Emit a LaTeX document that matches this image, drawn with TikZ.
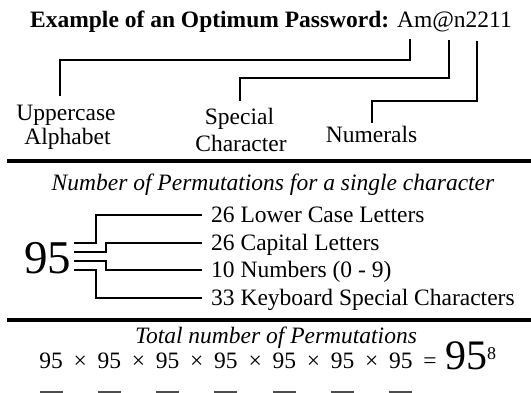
\documentclass[tikz,border=0pt]{standalone}
\usepackage{fontspec}
\setmainfont{Liberation Serif}
\begin{document}
\begin{tikzpicture}[x=1pt,y=-1pt,
  txt/.style={inner sep=0pt, font=\fontsize{23.5}{24}\selectfont},
  blab/.style={inner xsep=10pt, inner ysep=0pt, anchor=west, text height=15.5pt, text depth=0pt, font=\fontsize{23.5}{24}\selectfont},
  con/.style={line width=2.8pt, line join=miter, line cap=rect},
  sep/.style={line width=3.4pt},
  ubar/.style={line width=4pt, black!70},
]
\useasboundingbox (0,0) rectangle (531,392);
% title
\node[txt, anchor=base] (title) at (271,27) {\textbf{Example of an Optimum Password:} Am@n2211};
\coordinate (pA) at (410,40);
\coordinate (pB) at (449,41);
\coordinate (pC) at (477,42);
% labels
\node[txt, anchor=base] (up1) at (66,120) {Uppercase};
\node[txt, anchor=base] (up2) at (67.5,144) {Alphabet};
\node[txt, anchor=base] (sp1) at (239.5,124) {Special};
\node[txt, anchor=base] (sp2) at (241,151) {Character};
\node[txt, anchor=base] (num) at (371.5,142) {Numerals};
\coordinate (eA) at (60,95);
\coordinate (eB) at (240,100);
\coordinate (eC) at (372,122);
\draw[con] (pA) -- (pA |- 0,60) -| (eA);
\draw[con] (pB) -- (pB |- 0,78) -| (eB);
\draw[con] (pC) -- (pC |- 0,101) -| (eC);
% separator 1
\coordinate (s1a) at (7,161);
\coordinate (s1b) at (531,161);
\draw[sep] (s1a) -- (s1b);
\node[txt, anchor=base] (h1) at (273,190) {\itshape Number of Permutations for a single character};
% bracket
\node[inner sep=0pt, anchor=base west, font=\fontsize{47}{47}\selectfont] (n95) at (24,273) {95};
\node[blab] (lA) at (201,215) {26 Lower Case Letters};
\node[blab] (lB) at (201,243) {26 Capital Letters};
\node[blab] (lC) at (201,270) {10 Numbers (0 - 9)};
\node[blab] (lD) at (201,298) {33 Keyboard Special Characters};
\coordinate (sA) at (75,243);
\coordinate (sB) at (75,252);
\coordinate (sC) at (75,261);
\coordinate (sD) at (75,270);
\draw[con] (sA) -- (96,243) |- (lA.west);
\draw[con] (sB) -- (106,252) |- (lB.west);
\draw[con] (sC) -- (106,261) |- (lC.west);
\draw[con] (sD) -- (96,270) |- (lD.west);
% separator 2
\coordinate (s2a) at (7,320);
\coordinate (s2b) at (531,320);
\draw[sep] (s2a) -- (s2b);
\node[txt, anchor=base] (h2) at (276,343) {\itshape Total number of Permutations};
% product
\foreach \i in {0,...,6} {
  \node[txt, anchor=base] (f\i) at ({51+58.33*\i},368) {95};
  \draw[ubar] ({39.5+58.33*\i},393) -- ({62.5+58.33*\i},393);
}
\foreach \i in {0,...,5} {
  \node[txt, anchor=base] (x\i) at ({80.2+58.33*\i},368) {×};
}
\node[txt, anchor=base] (eq) at (430,368) {=};
\node[inner sep=0pt, anchor=base west, font=\fontsize{42}{42}\selectfont] (big) at (445,369) {95\textsuperscript{\fontsize{18}{18}\selectfont 8}};
\end{tikzpicture}
\end{document}
